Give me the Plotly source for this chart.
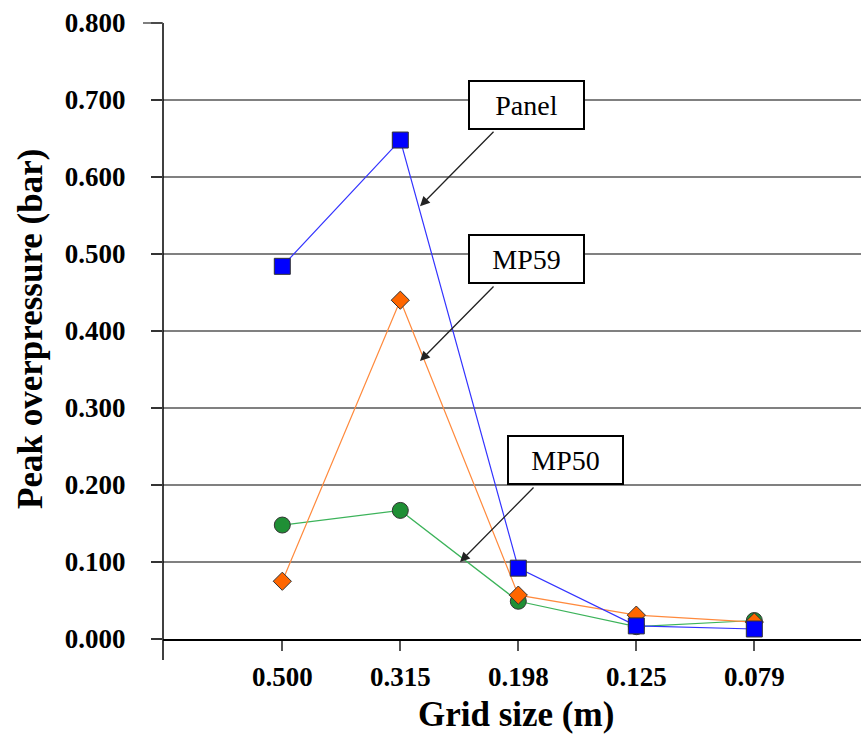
import plotly.graph_objects as go

grid_sizes = ["0.500", "0.315", "0.198", "0.125", "0.079"]
panel = [0.484, 0.648, 0.092, 0.017, 0.013]
mp59 = [0.075, 0.440, 0.057, 0.031, 0.022]
mp50 = [0.148, 0.167, 0.049, 0.016, 0.024]

y_ticks = [0.0, 0.1, 0.2, 0.3, 0.4, 0.5, 0.6, 0.7, 0.8]

SERIF = "Liberation Serif"

fig = go.Figure()

fig.add_trace(go.Scatter(
    x=grid_sizes, y=mp50, mode="lines+markers", name="MP50",
    line=dict(color="#3cb35a", width=1.2),
    marker=dict(symbol="circle", size=16, color="#1f8f35",
                line=dict(color="#333333", width=1)),
))
fig.add_trace(go.Scatter(
    x=grid_sizes, y=mp59, mode="lines+markers", name="MP59",
    line=dict(color="#ff8a3d", width=1.2),
    marker=dict(symbol="diamond", size=14, color="#ff6600",
                line=dict(color="#333333", width=1)),
))
fig.add_trace(go.Scatter(
    x=grid_sizes, y=panel, mode="lines+markers", name="Panel",
    line=dict(color="#3333ff", width=1.2),
    marker=dict(symbol="square", size=16, color="#0000ff",
                line=dict(color="#333333", width=1)),
))

# callout boxes
boxes = [("Panel", 2.069, 0.694), ("MP59", 2.069, 0.494), ("MP50", 2.396, 0.2325)]
for txt, bx, by in boxes:
    fig.add_annotation(
        x=bx, y=by, xref="x", yref="y", text=txt, showarrow=False,
        font=dict(family=SERIF, size=28, color="black"),
        bgcolor="white", bordercolor="black", borderwidth=2, borderpad=0,
        width=113, height=46, align="center", valign="middle",
    )

# arrows (head position in data coords, tail offset in px)
arrows = [(1.167, 0.562), (1.167, 0.361), (1.506, 0.100)]
for hx, hy in arrows:
    fig.add_annotation(
        x=hx, y=hy, xref="x", yref="y", text="", showarrow=True,
        ax=75, ay=-76, arrowhead=2, arrowsize=1.5, arrowwidth=1.3,
        arrowcolor="#222222", standoff=0, startstandoff=0,
    )

# axis titles
fig.add_annotation(
    x=0.506, y=-0.122, xref="paper", yref="paper", text="Grid size (m)",
    showarrow=False, font=dict(family=SERIF, size=35, color="black", weight="bold"),
    xanchor="center", yanchor="middle",
)
fig.add_annotation(
    x=-0.19, y=0.504, xref="paper", yref="paper", text="Peak overpressure (bar)",
    showarrow=False, textangle=-90,
    font=dict(family=SERIF, size=35, color="black", weight="bold"),
    xanchor="center", yanchor="middle",
)

# y axis line extended below the x axis
fig.add_shape(type="line", xref="paper", yref="paper", x0=0, x1=0, y0=1.0, y1=-0.034,
              line=dict(color="black", width=1.5))
fig.add_shape(type="line", xref="paper", yref="paper", x0=-0.0287, x1=0, y0=1.0, y1=1.0,
              line=dict(color="#555555", width=1.5))

fig.update_layout(
    width=861, height=734,
    margin=dict(l=163, r=0, t=23, b=95),
    paper_bgcolor="white", plot_bgcolor="white",
    showlegend=False,
    font=dict(family=SERIF, color="black"),
)
fig.update_xaxes(
    type="category", range=[-1.011, 4.904],
    showgrid=False, zeroline=False,
    showline=True, linecolor="black", linewidth=1.5,
    ticks="outside", ticklen=10, tickwidth=1.5, tickcolor="#555555",
    tickfont=dict(family=SERIF, size=27, color="black", weight="bold"),
    ticklabelstandoff=3,
)
fig.update_yaxes(
    range=[0, 0.8], tickvals=y_ticks, tickformat=".3f",
    showgrid=True, gridcolor="#808080", gridwidth=1.5,
    zeroline=False, showline=False,
    ticks="outside", ticklen=11, tickwidth=1.5, tickcolor="#333333",
    tickfont=dict(family=SERIF, size=27, color="black", weight="bold"),
    ticklabelstandoff=20,
)

fig.write_html("out.html")
